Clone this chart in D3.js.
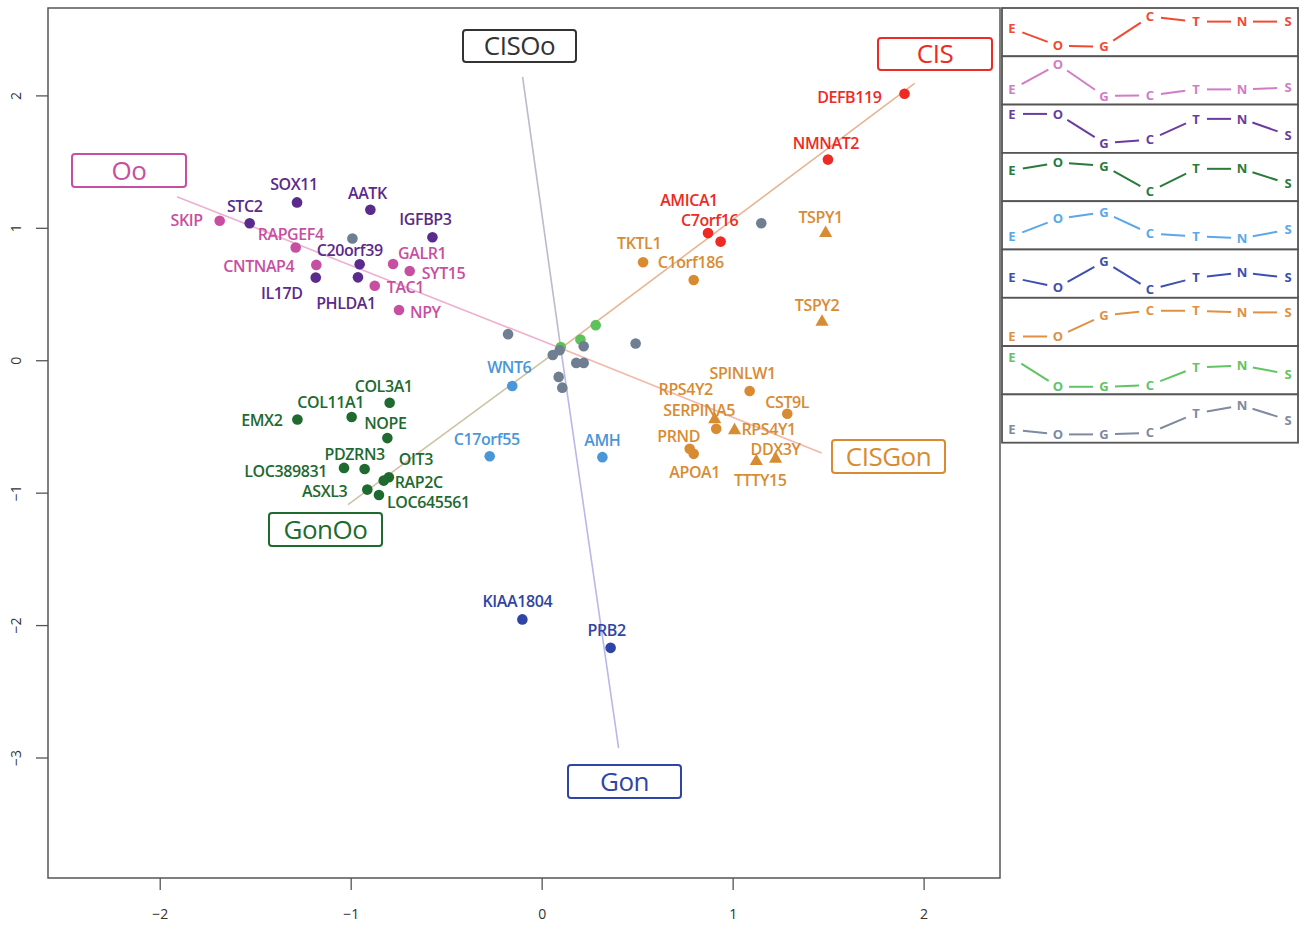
<!DOCTYPE html>
<html><head><meta charset="utf-8">
<script src="https://cdn.jsdelivr.net/npm/d3@7"></script>
<style>body{margin:0;background:#fff}svg{display:block}</style>
</head><body><svg id="c" width="1304" height="929"></svg>
<script>
// ---------- DATA ----------
const xTicks = [-2, -1, 0, 1, 2];
const yTicks = [-3, -2, -1, 0, 1, 2];

const clusterNames = ["CIS", "Oo", "EOo", "GonOo", "OoGon", "Gon", "CISGon", "E", "other"];
const clusterColors = ["#ee2a24", "#c74fa2", "#5a2a8c", "#1e6a2f", "#4a96d9", "#2f45a6", "#d98b32", "#5ec25a", "#6f7f91"];
const panelColors   = ["#f04a32", "#d27cc6", "#6a3ca0", "#2a7a3a", "#5aa8e8", "#3d4fb0", "#e09040", "#62c462", "#7d8aa0"];

// profile letters and levels (0 = low, 1 = high) per cluster panel
const stages = ["E", "O", "G", "C", "T", "N", "S"];
const profiles = [
  [0.62, 0.10, 0.07, 0.98, 0.83, 0.83, 0.83],
  [0.24, 1.00, 0.04, 0.06, 0.24, 0.24, 0.29],
  [0.96, 0.96, 0.08, 0.18, 0.81, 0.81, 0.32],
  [0.71, 0.95, 0.85, 0.07, 0.76, 0.76, 0.31],
  [0.18, 0.71, 0.91, 0.26, 0.18, 0.12, 0.38],
  [0.39, 0.10, 0.88, 0.03, 0.39, 0.54, 0.39],
  [0.07, 0.07, 0.71, 0.85, 0.85, 0.80, 0.80],
  [0.89, 0.01, 0.01, 0.06, 0.60, 0.65, 0.40],
  [0.18, 0.03, 0.03, 0.08, 0.67, 0.91, 0.47]
];

// labelled genes
const geneNames = ["SKIP","STC2","SOX11","AATK","IGFBP3","RAPGEF4","C20orf39","GALR1","CNTNAP4","SYT15","TAC1","IL17D","PHLDA1","NPY",
  "DEFB119","NMNAT2","AMICA1","C7orf16",
  "TKTL1","C1orf186","TSPY1","TSPY2","SPINLW1","CST9L","RPS4Y2","SERPINA5","RPS4Y1","PRND","APOA1","DDX3Y","TTTY15",
  "EMX2","COL11A1","COL3A1","NOPE","PDZRN3","LOC389831","OIT3","RAP2C","ASXL3","LOC645561",
  "WNT6","C17orf55","AMH","KIAA1804","PRB2"];
const geneX = [-1.686,-1.529,-1.281,-0.897,-0.572,-1.288,-0.953,-0.778,-1.180,-0.691,-0.874,-1.183,-0.962,-0.747,
  1.900,1.499,0.871,0.937,
  0.531,0.796,1.487,1.468,1.089,1.286,0.906,0.914,1.010,0.775,0.796,1.225,1.124,
  -1.279,-0.995,-0.796,-0.808,-0.927,-1.035,-0.800,-0.827,-0.913,-0.852,
  -0.154,-0.272,0.318,-0.101,0.361];
const geneY = [1.053,1.035,1.192,1.136,0.929,0.851,0.725,0.727,0.720,0.674,0.563,0.624,0.626,0.379,
  2.013,1.515,0.960,0.896,
  0.740,0.606,0.960,0.290,-0.232,-0.404,-0.447,-0.518,-0.530,-0.669,-0.707,-0.745,-0.763,
  -0.447,-0.429,-0.321,-0.588,-0.821,-0.813,-0.884,-0.909,-0.977,-1.018,
  -0.194,-0.725,-0.732,-1.957,-2.172];
const geneCluster = [1,2,2,2,2,1,2,1,1,1,1,2,2,1,
  0,0,0,0,
  6,6,6,6,6,6,6,6,6,6,6,6,6,
  3,3,3,3,3,3,3,3,3,3,
  4,4,4,5,5];
const geneShape = ["c","c","c","c","c","c","c","c","c","c","c","c","c","c",
  "c","c","c","c",
  "c","c","t","t","c","c","t","c","t","c","c","t","t",
  "c","c","c","c","c","c","c","c","c","c",
  "c","c","c","c","c"];

// unlabelled genes
const otherX = [0.10, 0.283, 0.203, -0.991, 1.150, -0.176, 0.058, 0.094, 0.220, 0.181, 0.220, 0.089, 0.108, 0.492];
const otherY = [0.10, 0.265, 0.157, 0.919, 1.035, 0.197, 0.040, 0.076, 0.106, -0.020, -0.020, -0.126, -0.207, 0.126];
const otherCluster = [7, 7, 7, 8, 8, 8, 8, 8, 8, 8, 8, 8, 8, 8];

// biplot directions
const axisCentre = [0.10, 0.09];
const axisNames = ["CIS", "GonOo", "Oo", "CISGon", "CISOo", "Gon"];
const axisEndX = [1.953, -1.014, -1.91, 1.466, -0.10, 0.403];
const axisEndY = [2.09, -1.09, 1.235, -0.70, 2.14, -2.93];

// ---------- LAYOUT ----------
const labelPos = {
  SKIP:[-17,-1,"end"], STC2:[-5,-17,"middle"], SOX11:[-3,-18,"middle"], AATK:[-3,-17,"middle"], IGFBP3:[-7,-18,"middle"],
  RAPGEF4:[-5,-14,"middle"], C20orf39:[-10,-14,"middle"], GALR1:[5,-11,"start"], CNTNAP4:[-22,1,"end"], SYT15:[12,2,"start"],
  TAC1:[12,1,"start"], IL17D:[-34,15,"middle"], PHLDA1:[-12,26,"middle"], NPY:[11,2,"start"],
  DEFB119:[-23,3,"end"], NMNAT2:[-2,-17,"middle"], AMICA1:[-19,-33,"middle"], C7orf16:[-11,-22,"middle"],
  TKTL1:[-4,-19,"middle"], C1orf186:[-3,-18,"middle"], TSPY1:[-5,-16,"middle"], TSPY2:[-5,-17,"middle"],
  SPINLW1:[-7,-18,"middle"], CST9L:[0,-12,"middle"], RPS4Y2:[-29,-30,"middle"], SERPINA5:[-17,-19,"middle"],
  RPS4Y1:[7,-1,"start"], PRND:[-11,-13,"middle"], APOA1:[1,18,"middle"], DDX3Y:[0,-10,"middle"], TTTY15:[4,19,"middle"],
  EMX2:[-15,1,"end"], COL11A1:[-21,-15,"middle"], COL3A1:[-6,-17,"middle"], NOPE:[-2,-15,"middle"], PDZRN3:[-10,-15,"middle"],
  LOC389831:[-17,3,"end"], OIT3:[27,-18,"middle"], RAP2C:[11,1,"start"], ASXL3:[-20,1,"end"], LOC645561:[8,7,"start"],
  WNT6:[-3,-19,"middle"], C17orf55:[-3,-17,"middle"], AMH:[0,-17,"middle"], KIAA1804:[-5,-18,"middle"], PRB2:[-4,-18,"middle"]
};
const axisStyle = {
  CIS:    {line:"#e8b592", col:"#ee2a24", box:[878,38,114,32]},
  GonOo:  {line:"#cdc4a4", col:"#1e6a2f", box:[269,513,113,33]},
  Oo:     {line:"#eeb0cf", col:"#c74fa2", box:[72,154,114,33]},
  CISGon: {line:"#f2b8a8", col:"#d98b32", box:[832,440,113,33]},
  CISOo:  {line:"#b9bccc", col:"#333333", box:[463,30,113,32]},
  Gon:    {line:"#b9b8ea", col:"#2f45a6", box:[568,765,113,33]}
};

const FONT = "'Open Sans', 'Noto Sans', sans-serif";
const svg = d3.select("#c");
const L = 48, R = 1000, T = 8, B = 878;
const x = d3.scaleLinear().domain([-2.585, 2.40]).range([L, R]);
const y = d3.scaleLinear().domain([-3.91, 2.66]).range([B, T]);

// frame
svg.append("rect").attr("x", L).attr("y", T).attr("width", R - L).attr("height", B - T)
  .attr("fill", "none").attr("stroke", "#555").attr("stroke-width", 1.5);

// axes
const gx = svg.append("g").attr("transform", `translate(0,${B})`)
  .call(d3.axisBottom(x).tickValues(xTicks).tickSize(12).tickPadding(19).tickFormat(d => d < 0 ? "\u2212" + Math.abs(d) : d));
const gy = svg.append("g").attr("transform", `translate(${L},0)`)
  .call(d3.axisLeft(y).tickValues(yTicks).tickSize(12).tickFormat(d => d < 0 ? "\u2212" + Math.abs(d) : d));
[gx, gy].forEach(g => {
  g.select(".domain").remove();
  g.selectAll(".tick line").attr("stroke", "#555").attr("stroke-width", 1.3);
  g.selectAll("text").attr("font-family", FONT).attr("font-size", 14).attr("fill", "#333");
});
gy.selectAll(".tick text").attr("x", null).attr("dy", null)
  .attr("text-anchor", "middle")
  .attr("transform", "translate(-33,0) rotate(-90)")
  .attr("dominant-baseline", "central");

// biplot lines
axisNames.forEach((n, i) => {
  svg.append("line")
    .attr("x1", x(axisCentre[0])).attr("y1", y(axisCentre[1]))
    .attr("x2", x(axisEndX[i])).attr("y2", y(axisEndY[i]))
    .attr("stroke", axisStyle[n].line).attr("stroke-width", 1.6);
});

// points: unlabelled
otherX.forEach((v, i) => {
  svg.append("circle").attr("cx", x(v)).attr("cy", y(otherY[i])).attr("r", 5.3)
    .attr("fill", clusterColors[otherCluster[i]]);
});
// labelled points
const tri = d3.symbol().type(d3.symbolTriangle).size(75);
geneNames.forEach((n, i) => {
  const col = clusterColors[geneCluster[i]];
  const px = x(geneX[i]), py = y(geneY[i]);
  if (geneShape[i] === "t") {
    svg.append("path").attr("d", tri()).attr("transform", `translate(${px},${py})`).attr("fill", col);
  } else {
    svg.append("circle").attr("cx", px).attr("cy", py).attr("r", 5.3).attr("fill", col);
  }
  const lp = labelPos[n];
  svg.append("text").attr("x", px + lp[0]).attr("y", py + lp[1] + 6)
    .attr("text-anchor", lp[2]).attr("font-family", FONT).attr("font-size", 16)
    .attr("font-weight", 600).attr("letter-spacing", -0.4)
    .attr("fill", col).text(n);
});

// axis name boxes
axisNames.forEach(n => {
  const s = axisStyle[n], b = s.box;
  svg.append("rect").attr("x", b[0]).attr("y", b[1]).attr("width", b[2]).attr("height", b[3])
    .attr("rx", 3).attr("fill", "#fff").attr("stroke", s.col).attr("stroke-width", 2);
  svg.append("text").attr("x", b[0] + b[2] / 2).attr("y", b[1] + b[3] / 2 + 9)
    .attr("text-anchor", "middle").attr("font-family", FONT).attr("font-size", 26)
    .attr("letter-spacing", -0.5).attr("fill", s.col).text(n);
});

// profile panels
const pL = 1002, pR = 1298, pT = 8, pH = 48.3;
const sx = d3.scalePoint().domain(stages).range([1012, 1288]);
const sy = d3.scaleLinear().domain([0, 1]).range([41, 8]);
profiles.forEach((prof, k) => {
  const top = pT + k * pH;
  const g = svg.append("g").attr("transform", `translate(0,${top})`);
  g.append("rect").attr("x", pL).attr("y", 0).attr("width", pR - pL).attr("height", pH)
    .attr("fill", "#fff").attr("stroke", "#555").attr("stroke-width", 1.8);
  const col = panelColors[k];
  for (let j = 0; j < stages.length - 1; j++) {
    const x1 = sx(stages[j]), y1 = sy(prof[j]), x2 = sx(stages[j + 1]), y2 = sy(prof[j + 1]);
    const dx = x2 - x1, dy = y2 - y1, len = Math.hypot(dx, dy), g0 = 11;
    g.append("line")
      .attr("x1", x1 + dx * g0 / len).attr("y1", y1 + dy * g0 / len)
      .attr("x2", x2 - dx * g0 / len).attr("y2", y2 - dy * g0 / len)
      .attr("stroke", col).attr("stroke-width", 2);
  }
  stages.forEach((s, j) => {
    g.append("text").attr("x", sx(s)).attr("y", sy(prof[j])).attr("dy", "0.36em")
      .attr("text-anchor", "middle").attr("font-family", FONT).attr("font-size", 13)
      .attr("font-weight", 700).attr("fill", col).text(s);
  });
});
</script></body></html>
